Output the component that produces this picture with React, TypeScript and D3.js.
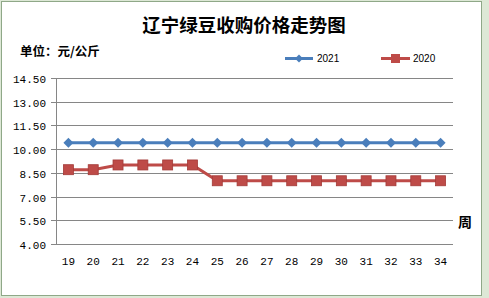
import React from "react";
import * as d3 from "d3";

const weeks = ["19","20","21","22","23","24","25","26","27","28","29","30","31","32","33","34"];
const price2021 = [10.4,10.4,10.4,10.4,10.4,10.4,10.4,10.4,10.4,10.4,10.4,10.4,10.4,10.4,10.4,10.4];
const price2020 = [8.7,8.7,9.0,9.0,9.0,9.0,8.0,8.0,8.0,8.0,8.0,8.0,8.0,8.0,8.0,8.0];
const yTicks = [4.0,5.5,7.0,8.5,10.0,11.5,13.0,14.5];
const title = "辽宁绿豆收购价格走势图";
const unitLabel = "单位：元/公斤";
const xAxisLabel = "周";
const seriesNames = ["2021","2020"];

const W = 489, H = 298;
const left = 56, right = 453, top = 78, bottom = 244;

export default function App() {
  const x = d3.scaleBand<string>().domain(weeks).range([left, right]);
  const y = d3.scaleLinear().domain([4, 14.5]).range([bottom, top]);
  const cx = (w: string) => (x(w) as number) + x.bandwidth() / 2;
  const line = d3.line<number>().x((_, i) => cx(weeks[i])).y((v) => y(v));
  const blue = "#4a7ebb", red = "#be4b48";
  const grid = "#868686";
  const mono = "'Liberation Mono', 'DejaVu Sans Mono', monospace";
  const diamond = (px: number, py: number, r: number) =>
    `M${px},${py - r}L${px + r},${py}L${px},${py + r}L${px - r},${py}Z`;
  return (
    <svg width={W} height={H} style={{ position: "absolute", left: 0, top: 0 }}>
      <rect x={0} y={0} width={W} height={H} fill="#dde8d6" />
      <rect x={1.5} y={1.5} width={480} height={294} fill="#ffffff" stroke="#8fa888" strokeWidth={1} />
      <text x={244} y={32} textAnchor="middle" fontSize={18.5} fontWeight="bold" fontFamily="'Noto Sans CJK SC', sans-serif" fill="#000">{title}</text>
      <text x={20} y={56} fontSize={12.5} fontWeight="bold" fontFamily="'Noto Sans CJK SC', sans-serif" fill="#000">{unitLabel}</text>
      {/* legend */}
      <line x1={285} x2={313} y1={58.5} y2={58.5} stroke={blue} strokeWidth={3} />
      <path d={diamond(299, 58.5, 4)} fill={blue} />
      <text x={317} y={62} fontSize={10} fontFamily="'Liberation Sans', Arial, sans-serif" fill="#000">{seriesNames[0]}</text>
      <line x1={381} x2={410} y1={58.5} y2={58.5} stroke={red} strokeWidth={3} />
      <rect x={391} y={54} width={9} height={9} fill={red} />
      <text x={413} y={62} fontSize={10} fontFamily="'Liberation Sans', Arial, sans-serif" fill="#000">{seriesNames[1]}</text>
      {/* grid + y ticks */}
      {yTicks.map((t) => (
        <g key={t}>
          <line x1={left - 5} x2={right} y1={Math.round(y(t)) + 0.5} y2={Math.round(y(t)) + 0.5} stroke={grid} strokeWidth={1} />
          <text x={46} y={Math.round(y(t)) + 4.5} textAnchor="end" fontSize={11} fontFamily={mono} fill="#000">{t.toFixed(2)}</text>
        </g>
      ))}
      <line x1={left + 0.5} x2={left + 0.5} y1={top} y2={bottom + 1} stroke={grid} strokeWidth={1} />
      {weeks.map((w) => (
        <text key={w} x={cx(w)} y={265} textAnchor="middle" fontSize={11} fontFamily={mono} fill="#000">{w}</text>
      ))}
      <text x={458} y={227} fontSize={14} fontWeight="bold" fontFamily="'Noto Sans CJK SC', sans-serif" fill="#000">{xAxisLabel}</text>
      {/* series */}
      <path d={line(price2021) || ""} fill="none" stroke={blue} strokeWidth={3} />
      {price2021.map((v, i) => (
        <path key={i} d={diamond(cx(weeks[i]), y(v), 5)} fill={blue} />
      ))}
      <path d={line(price2020) || ""} fill="none" stroke={red} strokeWidth={3} />
      {price2020.map((v, i) => (
        <rect key={i} x={cx(weeks[i]) - 5} y={y(v) - 5} width={10} height={10} fill={red} stroke="#a33b38" strokeWidth={0.8} />
      ))}
    </svg>
  );
}
